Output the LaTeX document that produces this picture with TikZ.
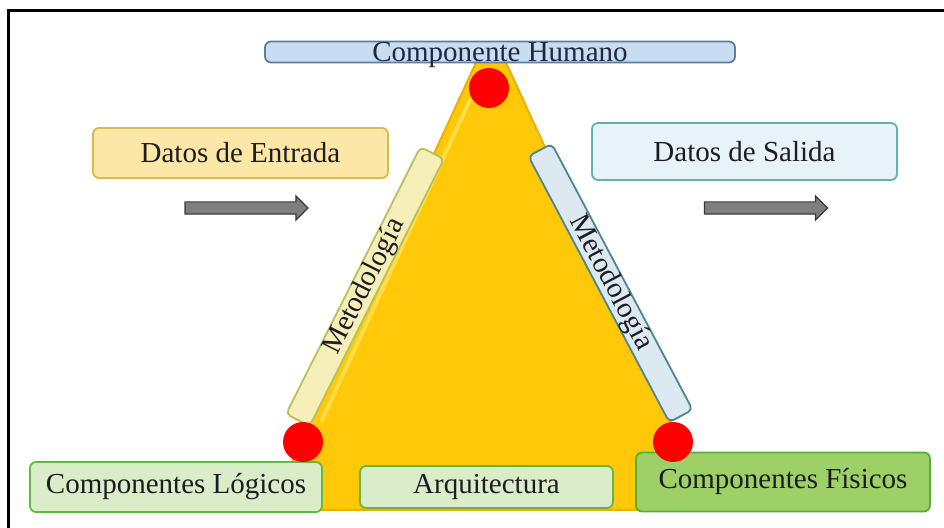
\documentclass[tikz,border=0pt]{standalone}
\usepackage{fontspec}
\setmainfont{Liberation Serif}
\usetikzlibrary{shapes.arrows}
\definecolor{txt}{HTML}{1C1C24}
\definecolor{humtxt}{HTML}{1F2742}
\definecolor{humfill}{HTML}{C8DCF2}
\definecolor{humline}{HTML}{5E7C9C}
\definecolor{entfill}{HTML}{FCE7A6}
\definecolor{entline}{HTML}{D8BA4E}
\definecolor{salfill}{HTML}{E7F3F9}
\definecolor{salline}{HTML}{62B1AC}
\definecolor{lbarfill}{HTML}{F7EFBA}
\definecolor{lbarline}{HTML}{B8C05A}
\definecolor{rbarfill}{HTML}{DCE9F0}
\definecolor{rbarline}{HTML}{4E8496}
\definecolor{grnfill}{HTML}{DAEDC8}
\definecolor{grnline}{HTML}{62B846}
\definecolor{fisfill}{HTML}{9DD066}
\definecolor{fisline}{HTML}{58AD3A}
\definecolor{trifill}{HTML}{FFC808}
\definecolor{triline}{HTML}{EDB000}
\definecolor{trihl}{HTML}{FFDD45}
\definecolor{arrfill}{HTML}{7F7F7F}
\definecolor{arrline}{HTML}{3A3A3A}
\tikzset{box/.style={draw, rounded corners=3pt, line width=0.9pt, inner sep=0pt, font=\fontsize{14.5}{16}\selectfont, text=txt}}
\tikzset{bar/.style={box, rounded corners=2.5pt, minimum height=12.5pt}}
\tikzset{dot/.style={circle, fill=red, minimum size=20pt, inner sep=0pt}}
\tikzset{blk/.style={single arrow, draw=arrline, fill=arrfill, line width=0.6pt, minimum height=61.5pt, minimum width=11.5pt, single arrow head extend=3pt, inner xsep=0pt, inner ysep=2.75pt}}

\begin{document}
\begin{tikzpicture}[x=0.5pt, y=-0.5pt]
    \useasboundingbox (0,0) rectangle (944,528);
    \draw[line width=1.5pt] (8,528) -- (8,11) -- (944,11);

    % triangle behind everything
    \coordinate (apex) at (491,30);
    \coordinate (bl) at (270,510);
    \coordinate (br) at (712,510);
    \draw[fill=trifill, draw=triline, line width=1pt, rounded corners=14pt] (apex) -- (br) -- (bl) -- cycle;
    \draw[trihl, line width=2pt, line cap=round] (470,100) -- (322,420);

    \node[box, fill=humfill, draw=humline, minimum width=235pt, minimum height=10.5pt,
          label={[font=\fontsize{14.5}{16}\selectfont, text=humtxt, yshift=-1.5pt]center:Componente Humano}] (hum) at (500,52) {};

    \node[box, fill=entfill, draw=entline, minimum width=147.5pt, minimum height=25pt] (ent) at (240.5,153) {Datos de Entrada};
    \node[box, fill=salfill, draw=salline, minimum width=152.5pt, minimum height=28.5pt] (sal) at (744.5,151.5) {Datos de Salida};

    \node[blk] (inarr) at (243.5,208) {};
    \node[blk] (outarr) at (763,208) {};

    \node[bar, fill=lbarfill, draw=lbarline, minimum width=149.5pt, rotate=63.3] (lmet) at (365,286.5) {Metodología};
    \node[bar, fill=rbarfill, draw=rbarline, minimum width=150.5pt, rotate=-62.1] (rmet) at (610.5,283) {Metodología};

    \node[box, fill=grnfill, draw=grnline, minimum width=146pt, minimum height=25pt] (log) at (176,487) {Componentes Lógicos};
    \node[box, fill=grnfill, draw=grnline, minimum width=126.5pt, minimum height=21pt] (arq) at (486.5,487) {Arquitectura};
    \node[box, fill=fisfill, draw=fisline, minimum width=147pt, minimum height=29.5pt] (fis) at (783,482) {Componentes Físicos};

    \node[dot] (humdot) at (489,88) {};
    \node[dot] (logdot) at (303,442) {};
    \node[dot] (fisdot) at (673,442) {};
\end{tikzpicture}
\end{document}
